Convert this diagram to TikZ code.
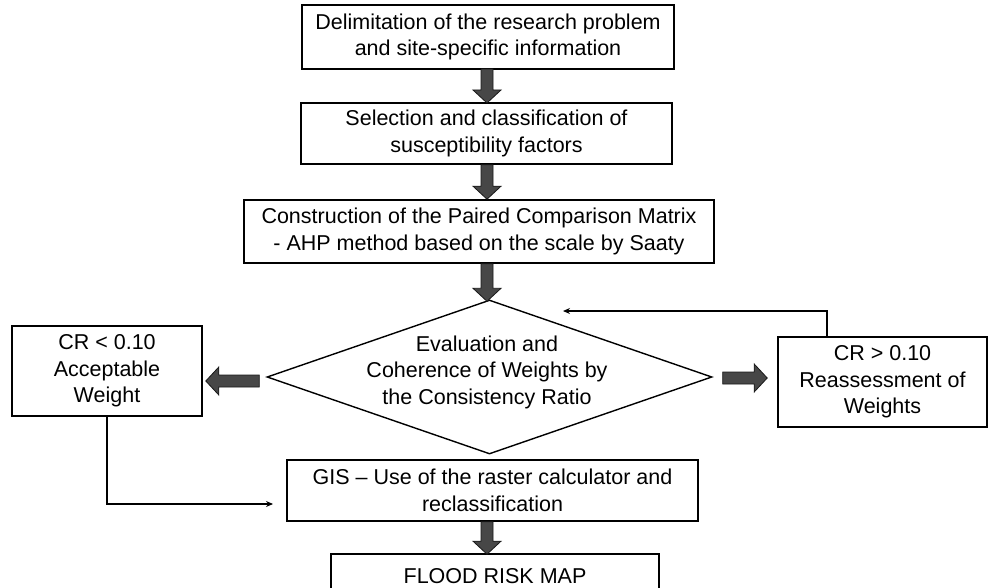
\documentclass[tikz,border=0pt]{standalone}
\usepackage{fontspec}
\setmainfont{Liberation Sans}
\usetikzlibrary{calc,shapes.geometric,arrows.meta}
\tikzset{
  txt/.style={font=\fontsize{21.5}{26.5}\selectfont, align=center},
  box/.style={txt, draw, line width=1.6pt, inner sep=0pt},
  blockarrow/.style={draw=black!90, line width=0.8pt, fill=black!72,
    to path={
      ($(\tikztostart)!6pt!90:(\tikztotarget)$)
      -- ($($(\tikztotarget)!13pt!(\tikztostart)$)!6pt!90:(\tikztotarget)$)
      -- ($($(\tikztotarget)!13pt!(\tikztostart)$)!14pt!90:(\tikztotarget)$)
      -- (\tikztotarget)
      -- ($($(\tikztotarget)!13pt!(\tikztostart)$)!14pt!-90:(\tikztotarget)$)
      -- ($($(\tikztotarget)!13pt!(\tikztostart)$)!6pt!-90:(\tikztotarget)$)
      -- ($(\tikztostart)!6pt!-90:(\tikztotarget)$)
      -- cycle}},
  thinarrow/.style={line width=1.4pt, -{Stealth[length=7pt,width=6pt]}}
}
\begin{document}
\begin{tikzpicture}[x=1pt,y=-1pt]
\useasboundingbox (0,0) rectangle (988,588);

\node[box, minimum width=372pt, minimum height=64pt] (b1) at (488,37)
  {Delimitation of the research problem\\and site-specific information};
\node[box, minimum width=371pt, minimum height=61pt] (b2) at (486.5,133.5)
  {Selection and classification of\\susceptibility factors};
\node[box, minimum width=470pt, minimum height=63pt] (b3) at (479,231.5)
  {Construction of the Paired Comparison Matrix\\- AHP method based on the scale by Saaty};
\node[diamond, draw, line width=1.4pt, minimum width=445pt, minimum height=154pt, inner sep=0pt] (eval) at (489.5,377) {};
\node[txt] (evaltxt) at (487,372) {Evaluation and\\Coherence of Weights by\\the Consistency Ratio};
\node[box, minimum width=190pt, minimum height=90pt] (acc) at (107,371)
  {CR < 0.10\\Acceptable\\Weight};
\node[box, minimum width=209pt, minimum height=90pt] (reas) at (882.5,382)
  {CR > 0.10\\Reassessment of\\Weights};
\node[box, minimum width=411pt, minimum height=61pt] (gis) at (492.5,490.5)
  {GIS -- Use of the raster calculator and\\reclassification};
\node[box, minimum width=328pt, minimum height=44pt] (flood) at (495,576)
  {FLOOD RISK MAP};

\draw[blockarrow] (487,69) to (487,103);
\draw[blockarrow] (b2.south -| 487,0) to (b3.north -| 487,0);
\draw[blockarrow] (b3.south -| 487,0) to ([yshift=-2pt]eval.north -| 487,0);
\draw[blockarrow] ([xshift=-7pt]eval.west |- 0,381) to ([xshift=3pt]acc.east |- 0,381);
\draw[blockarrow] ([xshift=10pt]eval.east |- 0,378) to ([xshift=-10pt]reas.west |- 0,378);
\draw[blockarrow] (gis.south -| 487,0) to ([yshift=-1pt]flood.north -| 487,0);

\coordinate (gisin) at (273,504);
\draw[thinarrow] (acc.south) |- (gisin);
\coordinate (fbend) at (563,311);
\draw[thinarrow] ([xshift=-55.5pt]reas.north) |- (fbend);
\end{tikzpicture}
\end{document}
